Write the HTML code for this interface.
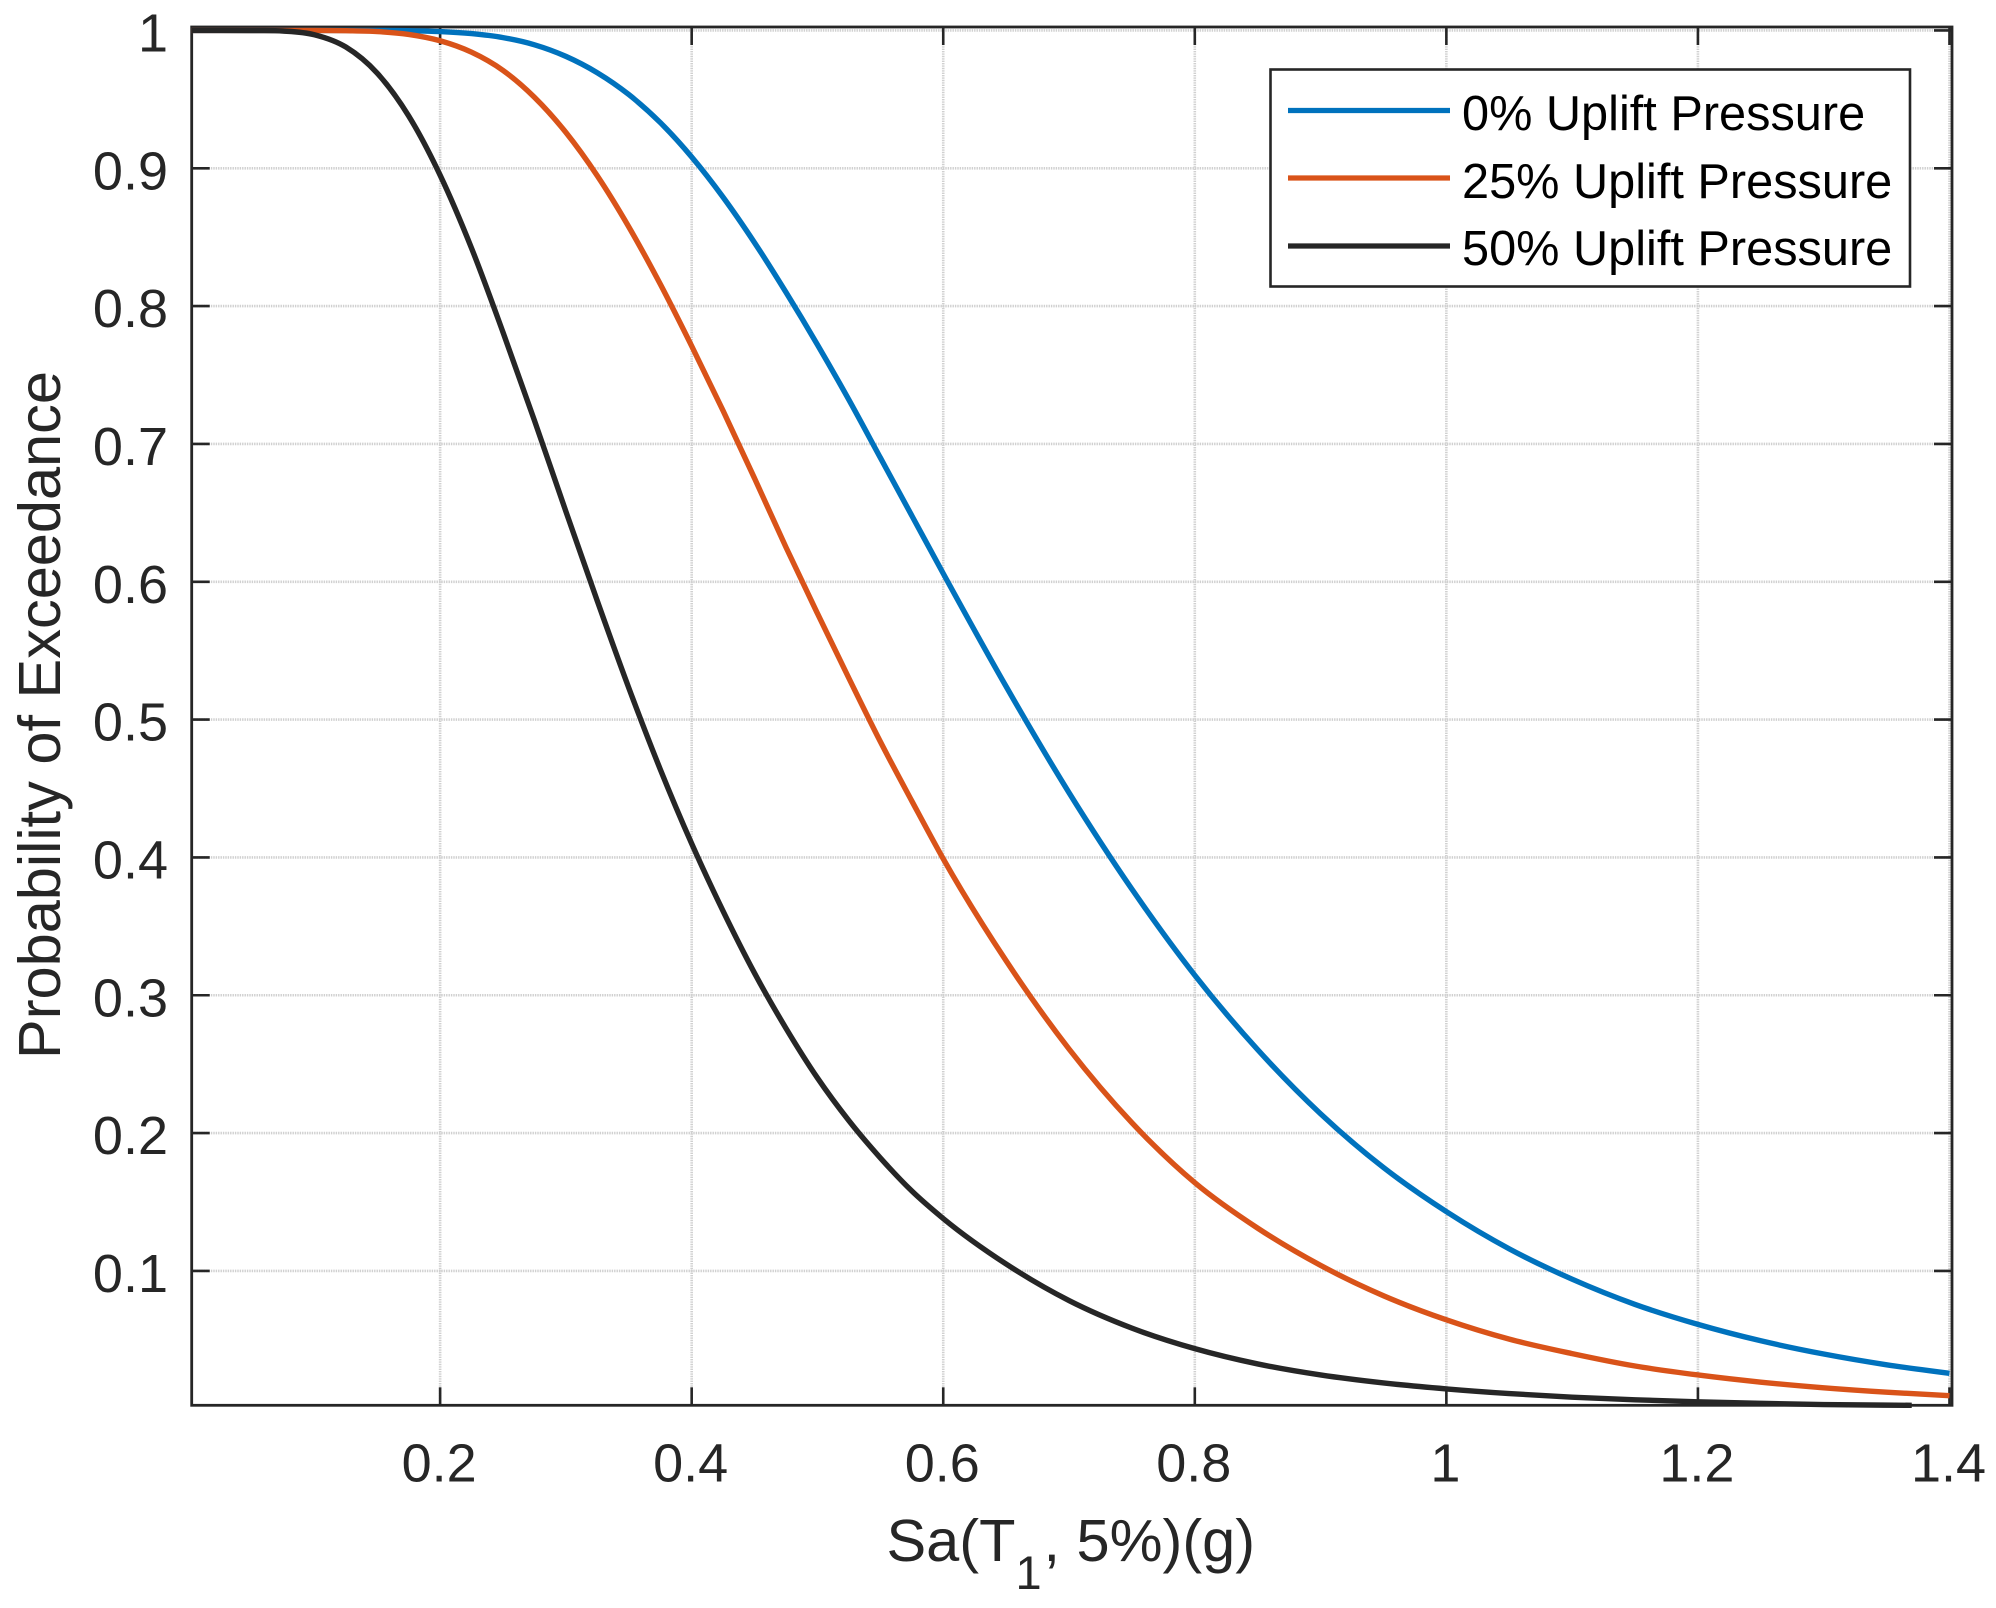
<!DOCTYPE html>
<html lang="en">
<head>
<meta charset="utf-8">
<title>Probability of Exceedance</title>
<style>
html,body{margin:0;padding:0;background:#fff;}
svg{display:block;font-family:"Liberation Sans",Arial,sans-serif;}
</style>
</head>
<body>
<svg id="chart" xmlns="http://www.w3.org/2000/svg" width="1996" height="1608" viewBox="0 0 1996 1608">
  <rect x="0" y="0" width="1996" height="1608" fill="#ffffff"/>
  <g id="grid"></g>
  <g id="frame"></g>
  <g id="tickLabels"></g>
  <g id="curves"></g>

  <text transform="translate(60 715) rotate(-90)" text-anchor="middle" font-size="59.5" fill="#262626">Probability of Exceedance</text>
  <g fill="#262626">
    <text x="886.5" y="1561" font-size="59.5">Sa(T</text>
    <text x="1015.5" y="1589" font-size="47">1</text>
    <text x="1043.5" y="1561" font-size="59.5">, 5%)(g)</text>
  </g>

  <g>
    <rect x="1270.5" y="69.5" width="639.5" height="217" fill="#ffffff" stroke="#262626" stroke-width="2.6"/>
    <line x1="1288" x2="1450" y1="110.5" y2="110.5" stroke="#0072BD" stroke-width="5.2"/>
    <text x="1462" y="130" font-size="48.7" fill="#000000">0% Uplift Pressure</text>
    <line x1="1288" x2="1450" y1="178" y2="178" stroke="#D95319" stroke-width="5.2"/>
    <text x="1462" y="198" font-size="48.7" fill="#000000">25% Uplift Pressure</text>
    <line x1="1288" x2="1450" y1="246" y2="246" stroke="#262626" stroke-width="5.2"/>
    <text x="1462" y="265" font-size="48.7" fill="#000000">50% Uplift Pressure</text>
  </g>
</svg>
<script>
const saValues = [0.0025,0.05,0.075,0.1,0.125,0.15,0.175,0.2,0.225,0.25,0.275,0.3,0.325,0.35,0.375,0.4,0.425,0.45,0.475,0.5,0.525,0.55,0.575,0.6,0.65,0.7,0.75,0.8,0.85,0.9,0.95,1.0,1.05,1.1,1.15,1.2,1.25,1.3,1.35,1.4];
const saValuesBlack = [0.0025,0.05,0.075,0.1,0.125,0.15,0.175,0.2,0.225,0.25,0.275,0.3,0.325,0.35,0.375,0.4,0.425,0.45,0.475,0.5,0.525,0.55,0.575,0.6,0.65,0.7,0.75,0.8,0.85,0.9,0.95,1.0,1.05,1.1,1.15,1.2,1.25,1.3,1.37];
const uplift0 = [1,1,1,1,1,1,0.9998,0.9992,0.9977,0.9948,0.9896,0.9812,0.9693,0.9535,0.9332,0.9082,0.879,0.846,0.81,0.772,0.732,0.69,0.648,0.606,0.524,0.447,0.377,0.3145,0.2605,0.214,0.175,0.143,0.116,0.094,0.0757,0.0612,0.0493,0.0397,0.0319,0.0257];
const uplift25 = [1,1,1,1,0.9998,0.9992,0.9971,0.9925,0.9842,0.971,0.9515,0.926,0.8945,0.8575,0.816,0.771,0.724,0.675,0.625,0.577,0.53,0.484,0.441,0.399,0.325,0.261,0.2075,0.164,0.131,0.104,0.082,0.0645,0.0505,0.04,0.031,0.0245,0.0193,0.0152,0.012,0.0095];
const uplift50 = [1,0.9999,0.9996,0.9969,0.988,0.969,0.938,0.895,0.842,0.781,0.717,0.651,0.586,0.523,0.464,0.41,0.361,0.316,0.276,0.24,0.209,0.182,0.158,0.138,0.105,0.0785,0.0585,0.0436,0.0325,0.0245,0.0187,0.0144,0.011,0.0084,0.0065,0.005,0.0039,0.003,0.0025];
const xTicks = [0.2,0.4,0.6,0.8,1,1.2,1.4];
const yTicks = [0.1,0.2,0.3,0.4,0.5,0.6,0.7,0.8,0.9,1];
const xLimits = [0.0025,1.402];
const yLimits = [0.0025,1.0025];

const AX = {left:191.7,right:1952,top:27,bottom:1405.3};
function xScale(v){return AX.left+(v-xLimits[0])/(xLimits[1]-xLimits[0])*(AX.right-AX.left);}
function yScale(v){return AX.bottom-(v-yLimits[0])/(yLimits[1]-yLimits[0])*(AX.bottom-AX.top);}

const NS='http://www.w3.org/2000/svg';
function make(tag,attrs,parent){
  const n=document.createElementNS(NS,tag);
  for(const k in attrs){n.setAttribute(k,attrs[k]);}
  parent.appendChild(n);
  return n;
}
const grid=document.getElementById('grid');
const frame=document.getElementById('frame');
const labels=document.getElementById('tickLabels');
const curves=document.getElementById('curves');
const GRID={stroke:'#d0d0d0','stroke-width':2.6,'stroke-dasharray':'1.4 1'};
const TICK={stroke:'#262626','stroke-width':2.6};
const TICKLEN=18;

xTicks.forEach(function(t){
  const x=xScale(t);
  let el=make('line',Object.assign({x1:x,x2:x,y1:AX.top,y2:AX.bottom},GRID),grid);
  
  
  el=make('line',Object.assign({x1:x,x2:x,y1:AX.bottom,y2:AX.bottom-TICKLEN},TICK),frame);
  
  
  el=make('line',Object.assign({x1:x,x2:x,y1:AX.top,y2:AX.top+TICKLEN},TICK),frame);
  
  
  el=make('text',{x:x-1,y:1481.5,'text-anchor':'middle','font-size':54,fill:'#262626'},labels);
  el.textContent=String(t);
  
  
});
yTicks.forEach(function(t){
  const y=yScale(t);
  let el=make('line',Object.assign({x1:AX.left,x2:AX.right,y1:y,y2:y},GRID),grid);
  
  
  el=make('line',Object.assign({x1:AX.left,x2:AX.left+TICKLEN,y1:y,y2:y},TICK),frame);
  
  
  el=make('line',Object.assign({x1:AX.right,x2:AX.right-TICKLEN,y1:y,y2:y},TICK),frame);
  
  
  el=make('text',{x:168,y:y+21,'text-anchor':'end','font-size':54,fill:'#262626'},labels);
  el.textContent=String(t);
  
  
});
const box=make('rect',{x:AX.left,y:AX.top,width:AX.right-AX.left,height:AX.bottom-AX.top,fill:'none',stroke:'#262626','stroke-width':2.8},frame);



function smoothPath(xs,ys){
  const p=xs.map(function(v,i){return [xScale(v),yScale(ys[i])];});
  const n=p.length;
  const slope=p.map(function(pt,i){
    if(i===0){return (p[1][1]-p[0][1])/(p[1][0]-p[0][0]);}
    if(i===n-1){return (p[n-1][1]-p[n-2][1])/(p[n-1][0]-p[n-2][0]);}
    const h0=pt[0]-p[i-1][0],h1=p[i+1][0]-pt[0];
    const d0=(pt[1]-p[i-1][1])/h0,d1=(p[i+1][1]-pt[1])/h1;
    return (h1*d0+h0*d1)/(h0+h1);
  });
  let d='M'+p[0][0].toFixed(2)+' '+p[0][1].toFixed(2);
  for(let i=0;i<n-1;i++){
    const h=(p[i+1][0]-p[i][0])/3;
    const c1x=p[i][0]+h,c1y=p[i][1]+slope[i]*h;
    const c2x=p[i+1][0]-h,c2y=p[i+1][1]-slope[i+1]*h;
    d+='C'+c1x.toFixed(2)+' '+c1y.toFixed(2)+' '+c2x.toFixed(2)+' '+c2y.toFixed(2)+' '+p[i+1][0].toFixed(2)+' '+p[i+1][1].toFixed(2);
  }
  return d;
}
const lineStyle={fill:'none','stroke-width':5.4,'stroke-linejoin':'round','stroke-linecap':'butt'};
let curve=make('path',Object.assign({d:smoothPath(saValues,uplift0),stroke:'#0072BD'},lineStyle),curves);


curve=make('path',Object.assign({d:smoothPath(saValues,uplift25),stroke:'#D95319'},lineStyle),curves);


curve=make('path',Object.assign({d:smoothPath(saValuesBlack,uplift50),stroke:'#262626'},lineStyle),curves);


</script>
</body>
</html>
